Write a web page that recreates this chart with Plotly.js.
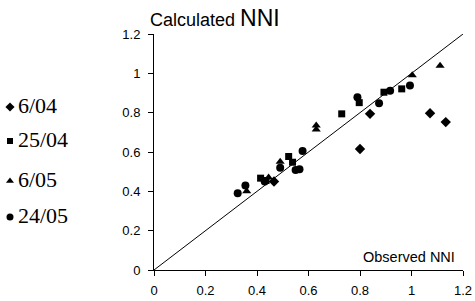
<!DOCTYPE html>
<html>
<head>
<meta charset="utf-8">
<script src="https://cdn.plot.ly/plotly-3.0.1.min.js"></script>
<style>html,body{margin:0;padding:0;background:#fff;}#chart{width:475px;height:301px;}</style>
</head>
<body>
<div id="chart"></div>
<script>
// Series labels
const seriesNames = ["6/04", "25/04", "6/05", "24/05"];
// 6/04 (diamonds)
const obs0604 = [0.466, 0.800, 0.839, 1.072, 1.133];
const calc0604 = [0.450, 0.615, 0.794, 0.797, 0.752];
// 25/04 (squares)
const obs2504 = [0.414, 0.435, 0.523, 0.538, 0.729, 0.797, 0.893, 0.962];
const calc2504 = [0.467, 0.455, 0.577, 0.548, 0.794, 0.851, 0.904, 0.921];
// 6/05 (triangles)
const obs0605 = [0.360, 0.445, 0.490, 0.630, 0.630, 1.003, 1.111];
const calc0605 = [0.400, 0.470, 0.550, 0.735, 0.715, 0.990, 1.038];
// 24/05 (circles)
const obs2405 = [0.325, 0.355, 0.430, 0.490, 0.550, 0.565, 0.577, 0.790, 0.874, 0.917, 0.994];
const calc2405 = [0.390, 0.430, 0.450, 0.520, 0.508, 0.512, 0.605, 0.879, 0.848, 0.911, 0.938];
// Axis ticks
const tickVals = [0, 0.2, 0.4, 0.6, 0.8, 1, 1.2];
const tickText = ["0", "0.2", "0.4", "0.6", "0.8", "1", "1.2"];

const xs = [obs0604, obs2504, obs0605, obs2405];
const ys = [calc0604, calc2504, calc0605, calc2405];
const symbols = ["diamond", "square", "triangle-up", "circle"];
const sizes = [8, 7, 8, 8];
const legSizes = [7, 6, 7, 7];

// layout constants (pixels)
const W = 475, H = 301;
const mL = 0, mR = 12, mT = 34, mB = 31;
const plotLeftPx = 154;
const plotW = W - mL - mR;
const legendYpx = [105, 139, 179, 215];
const legendMarkerX = 10;
const legendTextX = 16;

const traces = [];
for (let i = 0; i < 4; i++) {
  traces.push({
    type: "scatter", mode: "markers", x: xs[i], y: ys[i], name: seriesNames[i],
    marker: {symbol: symbols[i], size: sizes[i], color: "#000"},
    xaxis: "x", yaxis: "y", showlegend: false, hoverinfo: "x+y"
  });
}
for (let i = 0; i < 4; i++) {
  traces.push({
    type: "scatter", mode: "markers", x: [legendMarkerX], y: [legendYpx[i] + 2],
    marker: {symbol: symbols[i], size: legSizes[i], color: "#000"},
    xaxis: "x2", yaxis: "y2", showlegend: false, hoverinfo: "skip", cliponaxis: false
  });
}

const tickFont = {family: "Liberation Sans, Arial, sans-serif", size: 13, color: "#000"};
const annotations = [
  {
    xref: "paper", yref: "paper", x: 148 / plotW, y: 1, xanchor: "left", yanchor: "bottom",
    yshift: 1, showarrow: false,
    text: "Calculated <span style=\"font-size:23px\">NNI</span>",
    font: {family: "Liberation Sans, Arial, sans-serif", size: 18, color: "#000"}
  },
  {
    xref: "x", yref: "y", x: 1.2, y: 0, xanchor: "right", yanchor: "bottom",
    xshift: -6, yshift: 3, showarrow: false, text: "Observed NNI",
    font: {family: "Liberation Sans, Arial, sans-serif", size: 14.5, color: "#000"}
  }
];
for (let i = 0; i < 4; i++) {
  annotations.push({
    xref: "x2", yref: "y2", x: legendTextX, y: legendYpx[i], xanchor: "left", yanchor: "middle",
    showarrow: false, text: seriesNames[i],
    font: {family: "Liberation Serif, Times New Roman, serif", size: 22, color: "#000"}
  });
}

const layout = {
  width: W, height: H,
  margin: {l: mL, r: mR, t: mT, b: mB, pad: 0},
  paper_bgcolor: "#fff", plot_bgcolor: "#fff",
  showlegend: false,
  xaxis: {
    domain: [plotLeftPx / plotW, 1], range: [0, 1.2], tickvals: tickVals, ticktext: tickText,
    ticks: "outside", ticklen: 5, tickcolor: "#000", tickwidth: 1,
    showline: true, linecolor: "#000", linewidth: 1, showgrid: false, zeroline: false,
    tickfont: tickFont, anchor: "y", fixedrange: true, ticklabelstandoff: 3
  },
  yaxis: {
    domain: [0, 1], range: [0, 1.2], tickvals: tickVals, ticktext: tickText,
    ticks: "outside", ticklen: 5, tickcolor: "#000", tickwidth: 1,
    showline: true, linecolor: "#000", linewidth: 1, showgrid: false, zeroline: false,
    tickfont: tickFont, anchor: "x", fixedrange: true, ticklabelstandoff: 5
  },
  xaxis2: {domain: [0, 139 / plotW], range: [0, 139], visible: false, anchor: "y2", fixedrange: true},
  yaxis2: {domain: [0, 1], range: [H - mB, mT], visible: false, anchor: "x2", fixedrange: true},
  shapes: [{
    type: "line", xref: "x", yref: "y", x0: 0, y0: 0, x1: 1.2, y1: 1.2,
    line: {color: "#000", width: 1}
  }],
  annotations: annotations
};

Plotly.newPlot("chart", traces, layout, {displayModeBar: false, staticPlot: true});
</script>
</body>
</html>
